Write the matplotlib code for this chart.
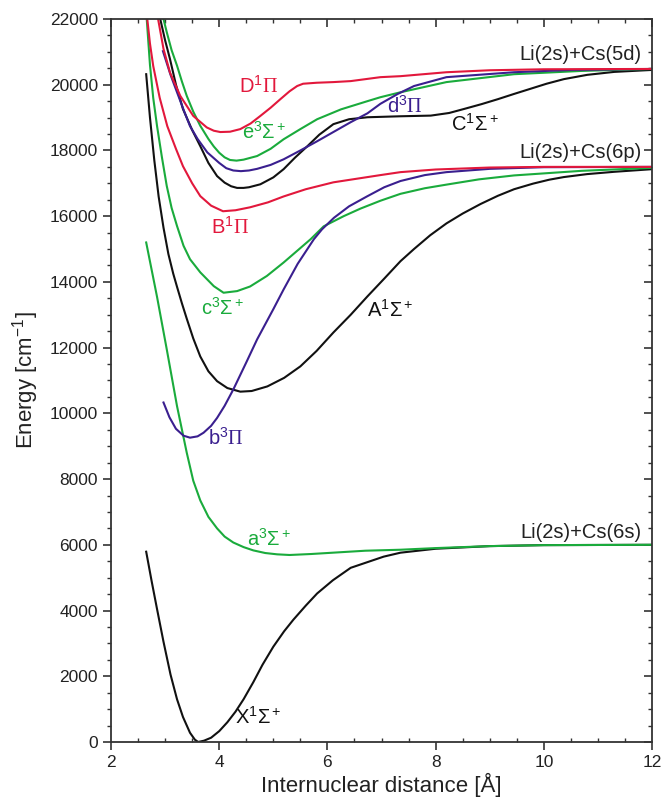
import matplotlib
matplotlib.use("Agg")
import matplotlib.pyplot as plt
from matplotlib.ticker import MultipleLocator

plt.rcParams['font.family'] = ['Liberation Sans', 'DejaVu Sans']
plt.rcParams['mathtext.fontset'] = 'custom'
plt.rcParams['mathtext.rm'] = 'Liberation Sans'
plt.rcParams['mathtext.it'] = 'Liberation Sans:italic'
plt.rcParams['mathtext.sf'] = 'Liberation Serif'

# potential curves: R [A], E [cm^-1]
X1_r = [2.65, 2.75, 2.85, 2.97, 3.1, 3.22, 3.33, 3.46, 3.55, 3.61, 3.72, 3.85, 4.0, 4.15,
        4.3, 4.45, 4.63, 4.8, 5.0, 5.2, 5.37, 5.6, 5.81, 6.1, 6.43, 7.04, 7.35, 8.0, 9.0, 10.0, 12.0]
X1_e = [5790, 4900, 4050, 3050, 2050, 1300, 760, 280, 70, 0, 40, 130, 330, 600,
        920, 1300, 1820, 2350, 2900, 3370, 3720, 4150, 4520, 4920, 5300, 5640, 5760, 5880, 5960, 5990, 6000]

a3_r = [2.65, 2.85, 3.03, 3.22, 3.40, 3.52, 3.65, 3.8, 3.96, 4.1, 4.26, 4.45, 4.63, 4.85,
        5.07, 5.3, 5.7, 6.1, 6.7, 7.35, 8.0, 9.0, 10.0, 12.0]
a3_e = [15200, 13550, 11950, 10220, 8800, 7950, 7350, 6850, 6500, 6250, 6070, 5930, 5830, 5750,
        5710, 5690, 5720, 5760, 5820, 5850, 5900, 5960, 5990, 6000]

b3_r = [2.97, 3.08, 3.2, 3.34, 3.46, 3.6, 3.71, 3.85, 3.96, 4.1, 4.26, 4.5, 4.7, 5.0,
        5.19, 5.45, 5.75, 5.9, 6.12, 6.4, 6.73, 7.05, 7.35, 7.8, 8.2, 9.0, 10.0, 12.0]
b3_e = [10330, 9880, 9530, 9320, 9260, 9300, 9410, 9620, 9860, 10230, 10725, 11550, 12250, 13170,
        13770, 14550, 15300, 15600, 15950, 16300, 16600, 16880, 17070, 17250, 17340, 17440, 17490, 17500]

A1_r = [2.65, 2.72, 2.8, 2.88, 2.97, 3.06, 3.15, 3.22, 3.31, 3.40, 3.52, 3.65, 3.8, 3.96,
        4.15, 4.39, 4.6, 4.89, 5.2, 5.5, 5.8, 6.11, 6.43, 6.74, 7.05, 7.35, 7.6, 7.9,
        8.2, 8.5, 8.83, 9.15, 9.45, 9.8, 10.1, 10.37, 10.8, 11.3, 12.0]
A1_e = [20320, 19000, 17700, 16600, 15650, 14850, 14250, 13850, 13350, 12880, 12280, 11730, 11280, 10980,
        10770, 10660, 10680, 10820, 11080, 11430, 11900, 12460, 13000, 13560, 14100, 14630, 15000, 15420,
        15780, 16080, 16370, 16620, 16820, 16990, 17110, 17190, 17280, 17350, 17430]

c3_r = [2.66, 2.72, 2.78, 2.85, 2.94, 3.03, 3.12, 3.22, 3.34, 3.46, 3.65, 3.9, 4.08, 4.33,
        4.57, 4.88, 5.19, 5.69, 5.93, 6.3, 6.61, 6.98, 7.35, 7.8, 8.2, 8.8, 9.45, 10.7, 12.0]
c3_e = [22000, 20600, 19600, 18750, 17800, 16920, 16250, 15700, 15100, 14690, 14290, 13870, 13670, 13720,
        13860, 14180, 14590, 15300, 15690, 16000, 16230, 16470, 16680, 16850, 16960, 17120, 17240, 17380, 17470]

B1_r = [2.67, 2.72, 2.78, 2.9, 3.04, 3.2, 3.33, 3.5, 3.65, 3.85, 4.07, 4.3, 4.57, 4.9,
        5.19, 5.6, 6.11, 6.98, 7.35, 8.0, 9.0, 10.0, 12.0]
B1_e = [22000, 21250, 20570, 19600, 18740, 18050, 17520, 17000, 16610, 16320, 16150, 16180, 16270, 16420,
        16600, 16820, 17030, 17250, 17340, 17420, 17480, 17500, 17500]

D1_r = [2.87, 2.97, 3.09, 3.28, 3.52, 3.77, 3.9, 4.02, 4.2, 4.39, 4.58, 4.76, 4.95, 5.13,
        5.3, 5.44, 5.55, 5.8, 6.11, 6.43, 6.98, 7.35, 8.2, 9.0, 10.0, 12.0]
D1_e = [22000, 21090, 20370, 19660, 19050, 18700, 18600, 18560, 18570, 18650, 18820, 19050, 19300, 19560,
        19800, 19960, 20030, 20060, 20080, 20110, 20230, 20260, 20380, 20440, 20470, 20480]

e3_r = [2.97, 3.03, 3.12, 3.22, 3.31, 3.40, 3.52, 3.65, 3.8, 3.9, 4.0, 4.1, 4.2, 4.32,
        4.45, 4.7, 4.95, 5.19, 5.5, 5.81, 6.25, 6.74, 6.98, 7.35, 8.2, 9.45, 10.7, 12.0]
e3_e = [22000, 21600, 21050, 20580, 20100, 19660, 19180, 18750, 18350, 18120, 17930, 17790, 17710, 17690,
        17720, 17830, 18050, 18340, 18650, 18950, 19250, 19500, 19620, 19770, 20080, 20320, 20420, 20480]

d3_r = [2.96, 3.1, 3.22, 3.35, 3.46, 3.6, 3.78, 4.0, 4.13, 4.26, 4.4, 4.55, 4.7, 4.95,
        5.19, 5.5, 5.81, 6.12, 6.43, 6.74, 6.98, 7.3, 7.6, 8.2, 9.45, 10.5, 12.0]
d3_e = [21020, 20300, 19770, 19200, 18740, 18350, 17940, 17620, 17460, 17390, 17370, 17390, 17440, 17560,
        17730, 18000, 18280, 18570, 18860, 19130, 19420, 19720, 19960, 20230, 20380, 20450, 20480]

C1_r = [2.91, 3.0, 3.09, 3.2, 3.33, 3.5, 3.65, 3.8, 3.96, 4.1, 4.22, 4.33, 4.45, 4.55,
        4.76, 5.0, 5.19, 5.4, 5.63, 5.85, 6.11, 6.4, 6.74, 7.35, 7.91, 8.25, 8.52, 8.85,
        9.15, 9.45, 9.76, 10.05, 10.37, 10.8, 11.3, 12.0]
C1_e = [22000, 21350, 20780, 20000, 19260, 18620, 18130, 17620, 17220, 17020, 16910, 16860, 16860, 16880,
        16970, 17180, 17430, 17780, 18130, 18480, 18800, 18950, 19010, 19040, 19060, 19140, 19260, 19410,
        19560, 19720, 19880, 20030, 20170, 20300, 20390, 20450]

red = '#e2183c'
green = '#1aab3c'
purple = '#3a1f8f'
black = '#111111'

fig = plt.figure(figsize=(6.64, 7.98), dpi=100)
ax = fig.add_axes([0.1672, 0.0702, 0.8148, 0.906])

lw = 1.5
ax.plot(X1_r, X1_e, color=black, lw=lw)
ax.plot(a3_r, a3_e, color=green, lw=lw)
ax.plot(A1_r, A1_e, color=black, lw=lw)
ax.plot(c3_r, c3_e, color=green, lw=lw)
ax.plot(b3_r, b3_e, color=purple, lw=lw)
ax.plot(C1_r, C1_e, color=black, lw=lw)
ax.plot(e3_r, e3_e, color=green, lw=lw)
ax.plot(d3_r, d3_e, color=purple, lw=lw)
ax.plot(B1_r, B1_e, color=red, lw=lw)
ax.plot(D1_r, D1_e, color=red, lw=lw)

ax.set_xlim(2, 12)
ax.set_ylim(0, 22000)

fs = 14.5
labels = [
    (4.72, 19960, r'D$^1\mathsf{\Pi}$', red),
    (4.83, 18560, r'e$^3\Sigma^+$', green),
    (4.2, 15660, r'B$^1\mathsf{\Pi}$', red),
    (7.43, 19350, r'd$^3\mathsf{\Pi}$', purple),
    (8.72, 18800, r'C$^1\Sigma^+$', black),
    (4.06, 13220, r'c$^3\Sigma^+$', green),
    (7.17, 13160, r'A$^1\Sigma^+$', black),
    (4.13, 9260, r'b$^3\mathsf{\Pi}$', purple),
    (4.93, 6180, r'a$^3\Sigma^+$', green),
    (4.72, 760, r'X$^1\Sigma^+$', black),
]
for x, y, s, c in labels:
    ax.text(x, y, s, color=c, fontsize=fs, ha='center', va='center')

asym = [(20930, 'Li(2s)+Cs(5d)'), (17950, 'Li(2s)+Cs(6p)'), (6370, 'Li(2s)+Cs(6s)')]
for y, s in asym:
    ax.text(11.8, y, s, color='#222222', fontsize=fs, ha='right', va='center')

ax.set_xlabel('Internuclear distance [Å]', fontsize=16, color='#222222', labelpad=2)
ax.set_ylabel(r'Energy [cm$^{-1}$]', fontsize=16, color='#222222', labelpad=6)

spine_c = '#333333'
for sp in ax.spines.values():
    sp.set_color(spine_c)
    sp.set_linewidth(1.3)

ax.xaxis.set_major_locator(MultipleLocator(2))
ax.xaxis.set_minor_locator(MultipleLocator(0.5))
ax.yaxis.set_major_locator(MultipleLocator(2000))
ax.yaxis.set_minor_locator(MultipleLocator(500))
ax.tick_params(axis='both', which='major', labelsize=12.5, colors=spine_c,
               labelcolor='#222222', length=6, width=1.2)
ax.tick_params(axis='x', which='major', direction='out')
ax.tick_params(axis='x', which='minor', direction='in', length=3, width=1.0, colors=spine_c)
ax.tick_params(axis='y', which='both', direction='out')
ax.tick_params(axis='y', which='minor', length=3, width=1.0, colors=spine_c)

top = ax.secondary_xaxis('top')
top.xaxis.set_major_locator(MultipleLocator(2))
top.xaxis.set_minor_locator(MultipleLocator(0.5))
top.tick_params(which='both', direction='in', labeltop=False, colors=spine_c)
top.tick_params(which='major', length=6, width=1.2)
top.tick_params(which='minor', length=3, width=1.0)
top.spines['top'].set_visible(False)

right = ax.secondary_yaxis('right')
right.yaxis.set_major_locator(MultipleLocator(2000))
right.yaxis.set_minor_locator(MultipleLocator(500))
right.tick_params(which='both', direction='in', labelright=False, colors=spine_c)
right.tick_params(which='major', length=6, width=1.2)
right.tick_params(which='minor', length=3, width=1.0)
right.spines['right'].set_visible(False)

fig.savefig('out.png', dpi=100)
